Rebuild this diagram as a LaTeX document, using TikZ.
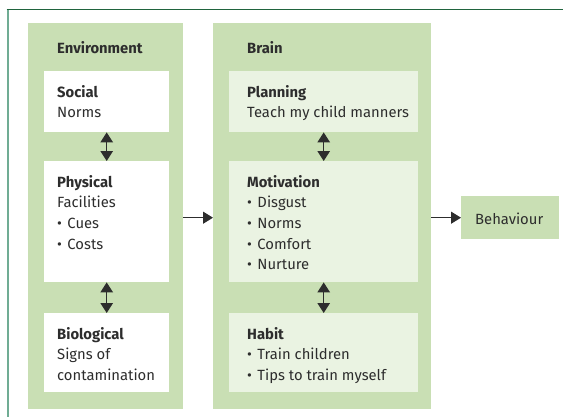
\documentclass[tikz,border=0pt]{standalone}
\usepackage{fontspec}
\setmainfont{Fira Sans}
\usetikzlibrary{arrows.meta,positioning}

\definecolor{panelgreen}{RGB}{201,223,180}
\definecolor{palegreen}{RGB}{234,243,226}
\definecolor{textgray}{RGB}{45,45,45}
\definecolor{frametop}{RGB}{32,100,62}
\definecolor{frameleft}{RGB}{112,172,148}

\tikzset{
  panel/.style={fill=panelgreen, anchor=north west, inner sep=0pt},
  whitebox/.style={fill=white, anchor=north west, inner sep=0pt},
  palebox/.style={fill=palegreen, anchor=north west, inner sep=0pt},
  % first line gets a 14pt strut, so the node top sits 14pt above the first baseline
  boxtext/.style={anchor=north west, align=left, inner sep=0pt, text=textgray,
    font=\fontsize{14.8}{20.6}\selectfont, execute at begin node={\rule{0pt}{14pt}}},
  link/.style={{Triangle[width=12.5pt,length=10pt]}-{Triangle[width=12.5pt,length=10pt]},
    line width=1.2pt, textgray},
  flow/.style={-{Triangle[width=12pt,length=10pt]}, line width=1.2pt, textgray},
}
\newcommand{\itm}{\textbullet\hspace{5.5pt}}

\begin{document}
\begin{tikzpicture}[x=1pt,y=-1pt]
	\useasboundingbox (0,0) rectangle (564,417);

	%frame
	\draw[frameleft, line width=2pt] (7.5,9) -- (7.5,417);
	\draw[frametop, line width=1.5pt] (6.5,9.5) -- (563,9.5);

	%panels
	\node[panel, minimum width=155pt, minimum height=386pt] (env) at (28,23) {};
	\node[panel, minimum width=218pt, minimum height=386pt] (brain) at (213,23) {};
	\node[panel, minimum width=98pt, minimum height=43pt] (behav) at (461,196) {};
	\node[boxtext, font=\bfseries\fontsize{14.8}{20.6}\selectfont] (envtitle) at ([shift={(29,16.5)}]env.north west) {Environment};
	\node[boxtext, font=\bfseries\fontsize{14.8}{20.6}\selectfont] (braintitle) at ([shift={(34,16.5)}]brain.north west) {Brain};
	\node[boxtext] (behavtxt) at ([shift={(14,14)}]behav.north west) {Behaviour};

	%environment boxes
	\node[whitebox, minimum width=125pt, minimum height=61pt] (social) at (44,71) {};
	\node[whitebox, minimum width=125pt, minimum height=121pt] (physical) at (44,161) {};
	\node[whitebox, minimum width=125pt, minimum height=79pt] (bio) at (44,313) {};
	\node[boxtext] (socialtxt) at ([shift={(13,14)}]social.north west)
		{\textbf{Social}\\Norms};
	\node[boxtext] (physicaltxt) at ([shift={(13,14)}]physical.north west)
		{\textbf{Physical}\\Facilities\\\itm Cues\\\itm Costs};
	\node[boxtext] (biotxt) at ([shift={(13,14)}]bio.north west)
		{\textbf{Biological}\\Signs of\\contamination};

	%brain boxes
	\node[palebox, minimum width=189pt, minimum height=61pt] (planning) at (229,71) {};
	\node[palebox, minimum width=189pt, minimum height=121pt] (motivation) at (229,161) {};
	\node[palebox, minimum width=189pt, minimum height=79pt] (habit) at (229,313) {};
	\node[boxtext] (planningtxt) at ([shift={(18,14)}]planning.north west)
		{\textbf{Planning}\\Teach my child manners};
	\node[boxtext] (motivationtxt) at ([shift={(18,14)}]motivation.north west)
		{\textbf{Motivation}\\\itm Disgust\\\itm Norms\\\itm Comfort\\\itm Nurture};
	\node[boxtext] (habittxt) at ([shift={(18,14)}]habit.north west)
		{\textbf{Habit}\\\itm Train children\\\itm Tips to train myself};

	%arrows
	\draw[link] (social.south) -- (physical.north);
	\draw[link] (physical.south) -- (bio.north);
	\draw[link] (planning.south) -- (motivation.north);
	\draw[link] (motivation.south) -- (habit.north);
	\draw[flow] (env.east |- behav.west) -- (brain.west |- behav.west);
	\draw[flow] (brain.east |- behav.west) -- (behav.west);

\end{tikzpicture}
\end{document}
